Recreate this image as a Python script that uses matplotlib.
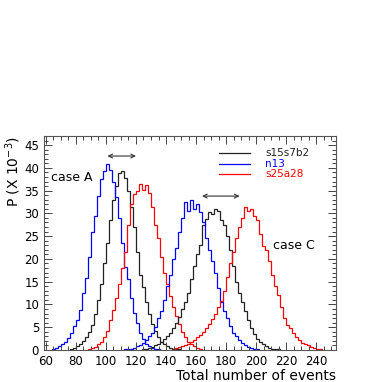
import numpy as np
import matplotlib
matplotlib.use('Agg')
import matplotlib.pyplot as plt
from matplotlib.ticker import MultipleLocator

# histogram contents, P in units of 1e-3, bins of 2 events
bin_width = 2

# case A
n13_a_start = 64
n13_a = [0.2, 0.4, 0.8, 1.2, 1.8, 2.6, 3.8, 5.2, 6.5, 8.8, 12.5, 15.8, 20.5,
         26.0, 29.5, 33.8, 37.5, 39.2, 40.8, 39.5, 36.8, 33.5, 29.0, 23.5,
         18.2, 15.5, 11.5, 8.2, 6.0, 3.8, 2.5, 1.4, 0.9, 0.5, 0.3, 0.1]

s15_a_start = 76
s15_a = [0.2, 0.4, 0.8, 1.2, 2.0, 2.8, 4.0, 5.5, 8.0, 11.0, 14.5, 19.0, 23.5,
         28.5, 33.0, 36.0, 38.8, 39.2, 37.8, 35.0, 31.5, 27.0, 21.5, 16.5,
         13.8, 10.5, 7.8, 5.8, 4.2, 2.8, 1.8, 1.2, 0.8, 0.5, 0.3, 0.2, 0.1]

s25_a_start = 88
s25_a = [0.2, 0.4, 0.7, 1.2, 1.8, 2.8, 4.2, 6.5, 8.8, 11.5, 14.5, 18.0, 21.5,
         27.5, 32.0, 34.2, 35.0, 36.4, 35.2, 36.3, 34.5, 31.5, 27.5, 24.5,
         20.5, 17.0, 14.5, 11.8, 9.5, 7.5, 5.8, 4.0, 2.8, 1.8, 1.2, 0.8, 0.5,
         0.3]

# case C
n13_c_start = 112
n13_c = [0.1, 0.2, 0.3, 0.5, 0.8, 1.0, 1.5, 2.2, 3.0, 3.8, 5.0, 7.0, 8.5,
         11.0, 14.0, 16.5, 20.0, 22.5, 26.0, 29.0, 32.5, 30.5, 33.0, 31.0,
         32.0, 30.2, 28.0, 24.5, 22.0, 19.5, 17.0, 13.5, 10.5, 8.5, 7.0, 5.2,
         3.8, 3.0, 2.2, 1.5, 1.0, 0.7, 0.4, 0.2, 0.1]

s15_c_start = 124
s15_c = [0.2, 0.3, 0.5, 0.7, 1.0, 1.4, 1.8, 2.3, 3.0, 3.8, 4.8, 6.0, 7.2,
         9.0, 10.5, 12.5, 15.5, 18.5, 21.0, 23.0, 27.5, 28.8, 30.2, 29.8,
         31.0, 30.6, 28.5, 27.5, 25.0, 22.0, 18.5, 15.0, 12.5, 10.5, 8.5,
         6.5, 4.8, 3.5, 2.5, 1.7, 1.2, 0.8, 0.5, 0.3, 0.2, 0.1]

s25_c_start = 146
s25_c = [0.4, 0.6, 0.9, 1.1, 1.3, 1.8, 2.2, 2.8, 3.3, 4.0, 4.8, 5.6, 6.8,
         8.0, 9.5, 10.8, 13.0, 16.0, 19.0, 21.5, 24.5, 27.0, 29.0, 31.5,
         30.5, 31.0, 29.5, 28.5, 25.5, 22.8, 22.0, 19.5, 16.5, 14.0, 12.0,
         9.5, 7.0, 5.5, 4.8, 3.8, 2.8, 2.2, 1.6, 1.2, 1.0, 0.6, 0.4, 0.2, 0.1]

labels = ['s15s7b2', 'n13', 's25a28']
colors = ['#222222', '#0000ff', '#ff0000']

hists = [
    (s15_a_start, s15_a, colors[0]), (n13_a_start, n13_a, colors[1]),
    (s25_a_start, s25_a, colors[2]), (s15_c_start, s15_c, colors[0]),
    (n13_c_start, n13_c, colors[1]), (s25_c_start, s25_c, colors[2]),
]

# shift arrows (event counts) and their height
arrow_a = (101, 120, 42.6)
arrow_c = (164, 189, 33.8)

fig = plt.figure(figsize=(3.82, 3.82), dpi=100)
ax = fig.add_axes([0.115, 0.084, 0.765, 0.560])

for start, vals, col in hists:
    edges = start + bin_width * np.arange(len(vals) + 1)
    ax.stairs(vals, edges, color=col, lw=0.9, baseline=0)

ax.set_xlim(58.7, 253.3)
ax.set_ylim(0, 47)

ax.xaxis.set_major_locator(MultipleLocator(20))
ax.xaxis.set_minor_locator(MultipleLocator(5))
ax.yaxis.set_major_locator(MultipleLocator(5))
ax.yaxis.set_minor_locator(MultipleLocator(1))
ax.tick_params(which='both', direction='in', top=True, right=True,
               labelsize=8.5, width=0.7, color='#444444')
ax.tick_params(which='major', length=6)
ax.tick_params(which='minor', length=3)
for sp in ax.spines.values():
    sp.set_linewidth(0.8)
    sp.set_color('#555555')

ax.set_xlabel('Total number of events', fontsize=10, loc='right')
ax.xaxis.set_label_coords(1.0, -0.088)
ax.set_ylabel(r'P (X 10$^{-3}$)', fontsize=10, loc='top')
ax.yaxis.set_label_coords(-0.07, 1.0)

# legend drawn by hand, ROOT style
rows = [0.921, 0.869, 0.822]
for lab, col, yy in zip(labels, colors, rows):
    ax.plot([0.599, 0.705], [yy, yy], color=col, lw=0.9,
            transform=ax.transAxes)
    ax.text(0.757, yy, lab, color=col, fontsize=7.5, va='center',
            ha='left', transform=ax.transAxes)

for x0, x1, yy in (arrow_a, arrow_c):
    ax.annotate('', xy=(x0, yy), xytext=(x1, yy),
                arrowprops=dict(arrowstyle='<->', color='#333333', lw=0.8,
                                mutation_scale=7, shrinkA=0, shrinkB=0))

ax.text(63.3, 37.8, 'case A', fontsize=9, va='center', ha='left')
ax.text(211, 23, 'case C', fontsize=9, va='center', ha='left')

fig.savefig('out.png', dpi=100)
